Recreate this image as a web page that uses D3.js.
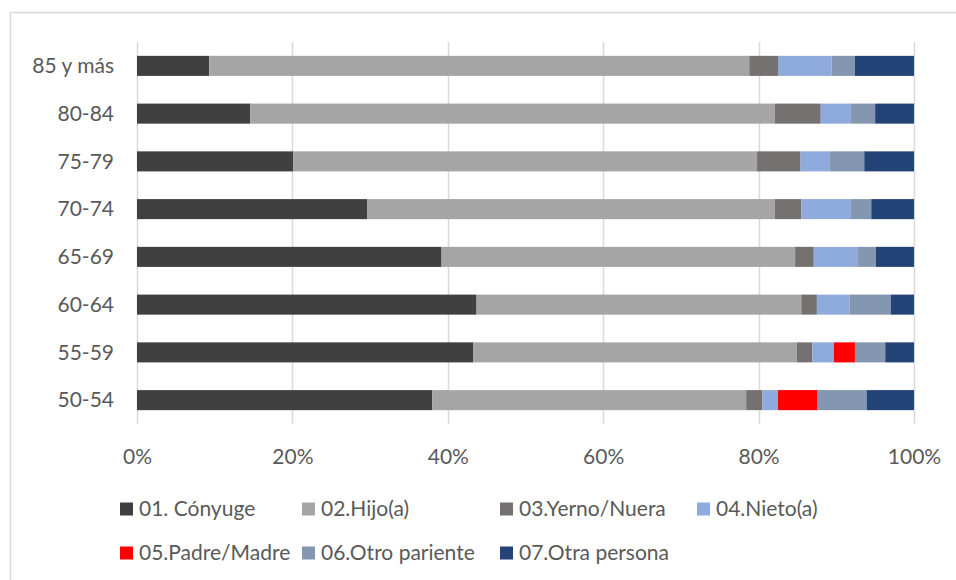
<!DOCTYPE html>
<html>
<head>
<meta charset="utf-8">
<script src="https://cdn.jsdelivr.net/npm/d3@7"></script>
<style>
  html, body { margin: 0; padding: 0; background: #fff; }
  svg text { font-family: Lato, "Noto Sans", sans-serif; fill: #595959; }
</style>
</head>
<body>
<svg id="chart" width="956" height="580"></svg>
<script>
// Age groups, top to bottom
const groups = ["85 y más", "80-84", "75-79", "70-74", "65-69", "60-64", "55-59", "50-54"];

// Share (%) of each relationship per age group, same order as groups
const conyuge       = [9.3, 14.6, 20.1, 29.6, 39.2, 43.7, 43.3, 38.0];
const hijo          = [69.5, 67.5, 59.7, 52.5, 45.5, 41.8, 41.6, 40.4];
const yernoNuera    = [3.7, 5.9, 5.6, 3.4, 2.4, 2.0, 2.0, 2.1];
const nieto         = [6.9, 3.9, 3.7, 6.4, 5.6, 4.2, 2.8, 2.0];
const padreMadre    = [0, 0, 0, 0, 0, 0, 2.7, 5.1];
const otroPariente  = [3.0, 3.1, 4.5, 2.6, 2.4, 5.3, 3.9, 6.3];
const otraPersona   = [7.6, 5.0, 6.4, 5.5, 4.9, 3.0, 3.7, 6.1];

const seriesNames = ["01. Cónyuge", "02.Hijo(a)", "03.Yerno/Nuera", "04.Nieto(a)",
                     "05.Padre/Madre", "06.Otro pariente", "07.Otra persona"];
const seriesColors = ["#404040", "#A5A5A5", "#767171", "#8FAADC", "#FF0000", "#8497B0", "#244478"];
const tickValues = [0, 0.2, 0.4, 0.6, 0.8, 1.0];

const seriesValues = [conyuge, hijo, yernoNuera, nieto, padreMadre, otroPariente, otraPersona];
const keys = seriesNames;
const rows = groups.map((g, i) => {
  const r = { group: g };
  keys.forEach((k, j) => r[k] = seriesValues[j][i]);
  return r;
});

const svg = d3.select("#chart");
const fontSize = "21px";

// Chart area frame
svg.append("rect")
  .attr("x", 10.5).attr("y", 12.5)
  .attr("width", 980).attr("height", 620)
  .attr("fill", "none").attr("stroke", "#D9D9D9").attr("stroke-width", 1.5);

const plot = { left: 137, right: 914, top: 42, bottom: 424 };

// expand-offset stack: each bar spans 0..1
const stack = d3.stack().keys(keys).offset(d3.stackOffsetExpand);
const stacked = stack(rows);

const x = d3.scaleLinear().domain([0, 1]).range([plot.left, plot.right]);
const y = d3.scaleBand().domain(groups).range([plot.top, plot.bottom]).paddingInner(0.58).paddingOuter(0.29);

// Vertical gridlines
svg.append("g")
  .selectAll("line")
  .data(tickValues)
  .join("line")
  .attr("x1", d => Math.round(x(d)) + 0.5)
  .attr("x2", d => Math.round(x(d)) + 0.5)
  .attr("y1", plot.top)
  .attr("y2", plot.bottom)
  .attr("stroke", "#D9D9D9")
  .attr("stroke-width", 1.5);

// Bars
svg.append("g")
  .selectAll("g")
  .data(stacked)
  .join("g")
  .attr("fill", (d, i) => seriesColors[i])
  .selectAll("rect")
  .data(d => d)
  .join("rect")
  .attr("x", d => x(d[0]))
  .attr("width", d => Math.max(0, x(d[1]) - x(d[0])))
  .attr("y", d => y(d.data.group))
  .attr("height", y.bandwidth());

// X axis labels
const xAxis = d3.axisBottom(x).tickValues(tickValues).tickFormat(d3.format(".0%")).tickSize(0).tickPadding(0);
const gx = svg.append("g").attr("transform", `translate(0,${plot.bottom})`).call(xAxis);
gx.select(".domain").remove();
gx.selectAll("text")
  .attr("y", 40)
  .attr("dy", 0)
  .style("font-size", fontSize)
  .attr("fill", "#595959");

// Y axis labels
const yAxis = d3.axisLeft(y).tickSize(0).tickPadding(0);
const gy = svg.append("g").attr("transform", `translate(114,0)`).call(yAxis);
gy.select(".domain").remove();
gy.selectAll("text")
  .attr("dy", "0.35em")
  .style("font-size", fontSize)
  .attr("fill", "#595959");

// Legend
const legendPos = [
  [120, 509], [302, 509], [500, 509], [697, 509],
  [120, 553], [302, 553], [500, 553]
];
const legend = svg.append("g")
  .selectAll("g")
  .data(seriesNames)
  .join("g")
  .attr("transform", (d, i) => `translate(${legendPos[i][0]},${legendPos[i][1]})`);
legend.append("rect")
  .attr("x", 0).attr("y", -6.5)
  .attr("width", 13).attr("height", 13)
  .attr("fill", (d, i) => seriesColors[i]);
legend.append("text")
  .attr("x", 19).attr("dy", "0.35em")
  .style("font-size", fontSize)
  .text(d => d);
</script>
</body>
</html>
